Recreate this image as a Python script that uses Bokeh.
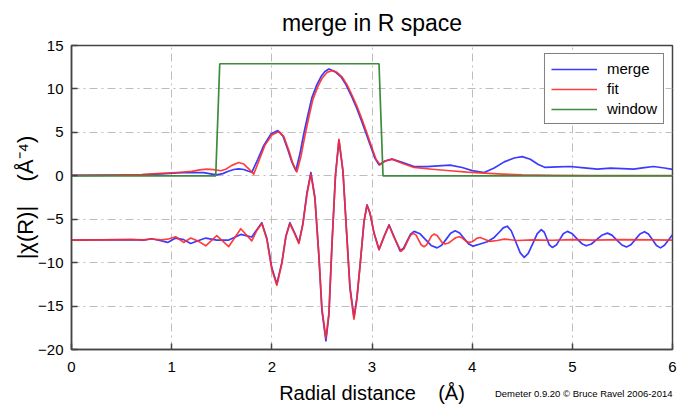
from bokeh.plotting import figure
from bokeh.models import Legend, LegendItem, Title, Range1d, FixedTicker
from bokeh.embed import file_html
from bokeh.resources import INLINE

# ---------------- data ----------------
X_TICKS = [0, 1, 2, 3, 4, 5, 6]
Y_TICKS = [-20, -15, -10, -5, 0, 5, 10, 15]

# |chi(R)| of the merged data
R_MAG_MERGE = [0.00, 0.40, 0.70, 0.90, 1.05, 1.20, 1.32, 1.39, 1.45, 1.51, 1.56, 1.62, 1.67, 1.72, 1.76,
               1.80, 1.86, 1.92, 1.99, 2.06, 2.11, 2.16, 2.20, 2.24, 2.28, 2.32, 2.36, 2.40, 2.45, 2.49,
               2.53, 2.57, 2.63, 2.69, 2.74, 2.79, 2.84, 2.89, 2.94, 2.99, 3.03, 3.07, 3.13, 3.20, 3.30,
               3.42, 3.55, 3.66, 3.78, 3.90, 4.00, 4.12, 4.22, 4.32, 4.42, 4.50, 4.58, 4.66, 4.73, 4.85,
               4.98, 5.12, 5.25, 5.38, 5.50, 5.61, 5.72, 5.81, 5.92, 6.00]
MAG_MERGE = [0.05, 0.07, 0.12, 0.22, 0.32, 0.38, 0.36, 0.22, 0.10, 0.25, 0.50, 0.72, 0.80, 0.72, 0.55,
             0.40, 1.9, 3.5, 4.8, 5.2, 4.6, 3.0, 1.6, 0.6, 2.5, 4.9, 7.0, 9.0, 10.5, 11.4,
             12.0, 12.3, 12.0, 11.4, 10.5, 9.3, 8.0, 6.5, 4.9, 3.3, 2.0, 1.25, 1.7, 1.92, 1.55,
             1.05, 1.05, 1.15, 1.23, 0.95, 0.6, 0.38, 0.9, 1.6, 2.05, 2.2, 1.9, 1.3, 0.96, 1.02,
             1.07, 0.92, 0.77, 0.88, 0.82, 0.77, 0.95, 1.07, 0.9, 0.73]

# |chi(R)| of the fit
R_MAG_FIT = [0.00, 0.40, 0.70, 0.90, 1.05, 1.20, 1.28, 1.35, 1.42, 1.49, 1.54, 1.60, 1.67, 1.72, 1.77,
             1.82, 1.87, 1.93, 2.00, 2.07, 2.12, 2.17, 2.21, 2.25, 2.29, 2.33, 2.37, 2.41, 2.46, 2.50,
             2.55, 2.60, 2.65, 2.70, 2.75, 2.80, 2.85, 2.90, 2.95, 3.00, 3.04, 3.08, 3.13, 3.20, 3.30,
             3.42, 3.60, 3.78, 3.95, 4.12, 4.30, 4.50, 4.80, 5.20, 6.00]
MAG_FIT = [0.05, 0.08, 0.15, 0.28, 0.38, 0.50, 0.68, 0.77, 0.70, 0.58, 0.75, 1.20, 1.53, 1.35, 0.80,
           0.2, 1.7, 3.5, 4.7, 5.1, 4.5, 2.9, 1.4, 0.45, 2.2, 4.6, 6.8, 8.8, 10.3, 11.2,
           11.9, 12.1, 11.9, 11.4, 10.5, 9.3, 8.0, 6.5, 4.9, 3.2, 1.9, 1.3, 1.7, 1.92, 1.45,
           0.96, 0.75, 0.58, 0.42, 0.31, 0.2, 0.1, 0.05, 0.03, 0.02]

# Fourier-transform window
R_WINDOW = [0.00, 1.44, 1.48, 3.07, 3.11, 6.00]
WINDOW = [0.0, 0.0, 12.9, 12.9, 0.0, 0.0]

# Re[chi(R)] of the merged data (shown offset)
R_RE_MERGE = [0.00, 0.30, 0.60, 0.72, 0.80, 0.88, 0.96, 1.04, 1.12, 1.19, 1.27, 1.34, 1.45, 1.57, 1.69,
              1.80, 1.85, 1.90, 1.95, 2.00, 2.05, 2.10, 2.14, 2.18, 2.225, 2.27, 2.31, 2.35, 2.39, 2.43,
              2.47, 2.50, 2.54, 2.57, 2.60, 2.635, 2.67, 2.71, 2.745, 2.78, 2.82, 2.85, 2.885, 2.92, 2.95,
              2.98, 3.02, 3.07, 3.12, 3.17, 3.22, 3.28, 3.315, 3.35, 3.385, 3.42, 3.48, 3.535, 3.59, 3.65,
              3.695, 3.74, 3.785, 3.83, 3.875, 3.92, 3.965, 4.01, 4.08, 4.15, 4.22, 4.27, 4.31, 4.35, 4.39,
              4.435, 4.48, 4.52, 4.56, 4.605, 4.65, 4.69, 4.72, 4.745, 4.77, 4.80, 4.84, 4.875, 4.91, 4.95,
              4.995, 5.045, 5.095, 5.14, 5.19, 5.245, 5.30, 5.35, 5.395, 5.445, 5.495, 5.54, 5.585, 5.63, 5.675,
              5.72, 5.76, 5.80, 5.84, 5.88, 5.92, 5.96, 6.00]
RE_MERGE = [-7.40, -7.38, -7.36, -7.40, -7.25, -7.45, -7.67, -7.17, -7.35, -7.79, -7.45, -7.17, -7.40, -7.40, -6.75,
            -7.05, -6.2, -5.4, -7.2, -10.6, -12.46, -10.0, -7.0, -5.4, -6.5, -7.7, -5.5, -2.0, 0.38, -2.5,
            -9.3, -15.5, -19.0, -16.0, -8.0, 0.0, 4.1, 0.5, -6.2, -12.8, -16.3, -14.0, -9.8, -5.3, -3.34,
            -4.3, -6.6, -8.5, -7.0, -5.64, -7.0, -8.65, -8.32, -7.52, -6.73, -6.4, -6.68, -7.35, -8.02, -8.3,
            -8.01, -7.32, -6.62, -6.33, -6.59, -7.22, -7.84, -8.1, -7.85, -7.6, -7.1, -6.5, -6.0, -5.8, -6.33,
            -7.6, -8.87, -9.4, -8.93, -7.8, -6.67, -6.2, -6.5, -7.22, -7.95, -8.25, -7.98, -7.32, -6.67, -6.4,
            -6.64, -7.23, -7.82, -8.06, -7.85, -7.33, -6.81, -6.6, -6.83, -7.4, -7.97, -8.2, -7.94, -7.32, -6.7,
            -6.44, -6.71, -7.37, -8.03, -8.3, -8.0, -7.4, -6.8]

# Re[chi(R)] of the fit (shown offset)
R_RE_FIT = [0.00, 0.30, 0.60, 0.72, 0.80, 0.90, 0.96, 1.04, 1.12, 1.19, 1.27, 1.34, 1.45, 1.57, 1.69,
            1.80, 1.85, 1.90, 1.95, 2.00, 2.05, 2.10, 2.14, 2.18, 2.225, 2.27, 2.31, 2.35, 2.39, 2.43,
            2.47, 2.50, 2.54, 2.57, 2.60, 2.635, 2.67, 2.71, 2.745, 2.78, 2.82, 2.85, 2.885, 2.92, 2.95,
            2.98, 3.02, 3.07, 3.12, 3.17, 3.22, 3.29, 3.32, 3.35, 3.38, 3.41, 3.44, 3.465, 3.49, 3.52,
            3.545, 3.57, 3.595, 3.62, 3.65, 3.675, 3.70, 3.73, 3.765, 3.80, 3.835, 3.87, 3.895, 3.92, 3.945,
            3.97, 4.00, 4.025, 4.05, 4.08, 4.13, 4.18, 4.25, 4.32, 4.45, 4.60, 4.80, 5.00, 5.20, 5.50,
            5.80, 6.00]
RE_FIT = [-7.40, -7.38, -7.36, -7.38, -7.28, -7.38, -7.30, -7.02, -7.67, -7.17, -7.55, -8.06, -6.90, -8.15, -6.10,
          -7.50, -6.3, -5.5, -7.3, -10.8, -12.6, -10.1, -7.0, -5.5, -6.6, -7.8, -5.6, -2.2, 0.2, -2.6,
          -9.2, -15.3, -18.7, -15.8, -8.0, 0.0, 4.2, 0.6, -6.3, -13.0, -16.5, -14.1, -9.8, -5.3, -3.4,
          -4.3, -6.6, -8.5, -7.0, -5.7, -7.1, -8.7, -8.39, -7.65, -6.91, -6.6, -6.83, -7.39, -7.94, -8.17,
          -7.96, -7.44, -6.92, -6.71, -6.88, -7.29, -7.69, -7.86, -7.74, -7.44, -7.14, -7.02, -7.12, -7.35, -7.58,
          -7.67, -7.59, -7.39, -7.18, -7.10, -7.33, -7.56, -7.45, -7.29, -7.45, -7.38, -7.42, -7.35, -7.40, -7.35,
          -7.38, -7.40]

# ---------------- styling ----------------
FONT = "Liberation Sans"
BLUE = "#3b3bff"
RED = "#ff2a2a"
GREEN = "#3d8b3d"
AXIS = "#444444"
NB = "\u00a0"

p = figure(width=681, height=408, output_backend="svg", toolbar_location=None,
           x_range=Range1d(0, 6), y_range=Range1d(-20, 15),
           min_border_left=71, min_border_right=9, min_border_top=45, min_border_bottom=59,
           title="merge in R space")
p.title.text_font = FONT
p.title.text_font_size = "23px"
p.title.text_font_style = "normal"
p.title.align = "center"
p.title.vertical_align = "top"
p.title.text_color = "black"
p.title.standoff = 16

p.outline_line_color = AXIS
p.outline_line_width = 1.5
p.background_fill_color = "white"
p.border_fill_color = "white"


def style_axis(ax, ticks):
    ax.ticker = FixedTicker(ticks=ticks)
    ax.axis_line_color = AXIS
    ax.axis_line_width = 1.5
    ax.major_tick_line_color = AXIS
    ax.major_tick_line_width = 1.5
    ax.major_tick_in = 6
    ax.major_tick_out = 0
    ax.minor_tick_line_color = None
    ax.major_label_text_font = FONT
    ax.major_label_text_font_size = "15px"
    ax.major_label_text_color = "black"
    ax.axis_label_text_font = FONT
    ax.axis_label_text_font_style = "normal"
    ax.axis_label_text_color = "black"


style_axis(p.xaxis[0], X_TICKS)
style_axis(p.yaxis[0], Y_TICKS)
p.xaxis[0].major_label_standoff = 12
p.yaxis[0].major_label_standoff = 8
p.xaxis[0].axis_label = "Radial distance" + NB * 4 + "(Å)"
p.xaxis[0].axis_label_text_font_size = "20px"
p.xaxis[0].axis_label_standoff = 7
p.yaxis[0].axis_label = "|χ(R)|" + NB * 4 + "(Å⁻⁴)"
p.yaxis[0].axis_label_text_font_size = "22px"
p.yaxis[0].axis_label_standoff = -3

for g in (p.xgrid[0], p.ygrid[0]):
    g.grid_line_color = "#bdbdbd"
    g.grid_line_dash = "8 4 2 4"
    g.grid_line_width = 1
p.xgrid[0].ticker = FixedTicker(ticks=X_TICKS[1:-1])
p.ygrid[0].ticker = FixedTicker(ticks=Y_TICKS[1:-1])

lw = 1.7
r_merge = p.line(R_MAG_MERGE, MAG_MERGE, line_color=BLUE, line_width=lw, line_join="round")
p.line(R_RE_MERGE, RE_MERGE, line_color=BLUE, line_width=lw, line_join="round")
r_fit = p.line(R_MAG_FIT, MAG_FIT, line_color=RED, line_width=lw, line_join="round", line_alpha=0.9)
p.line(R_RE_FIT, RE_FIT, line_color=RED, line_width=lw, line_join="round", line_alpha=0.9)
r_win = p.line(R_WINDOW, WINDOW, line_color=GREEN, line_width=lw)

legend = Legend(items=[LegendItem(label="merge", renderers=[r_merge]),
                       LegendItem(label="fit", renderers=[r_fit]),
                       LegendItem(label="window", renderers=[r_win])],
                location="top_right", margin=8, padding=6, spacing=3,
                glyph_width=46, glyph_height=16, label_height=16, label_standoff=10,
                label_text_font=FONT, label_text_font_size="15px", label_text_color="black",
                border_line_color="black", border_line_width=1, background_fill_color="white",
                background_fill_alpha=1.0)
p.add_layout(legend, "center")

credit = Title(text="Demeter 0.9.20 © Bruce Ravel 2006-2014", align="right",
               vertical_align="top", text_font=FONT, text_font_size="9.5px",
               text_font_style="normal", text_color="black", standoff=-38)
p.add_layout(credit, "below")

open("out.html", "w").write(file_html(p, INLINE))
